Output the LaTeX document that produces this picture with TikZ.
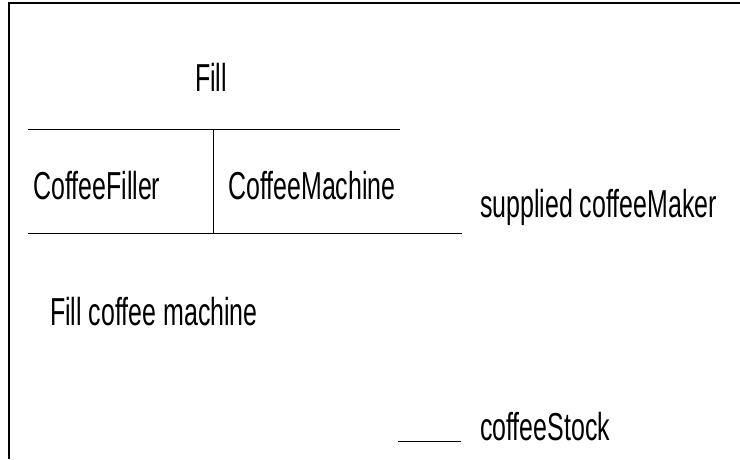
\documentclass[tikz,border=0pt]{standalone}
\usepackage{fontspec}
\setmainfont{Liberation Sans}
\usepackage{tikz}

\tikzset{
	lbl/.style={font=\fontsize{39}{40}\selectfont, xscale=0.64, inner sep=0pt, anchor=base west},
	rule/.style={line width=0.8pt}
}

\begin{document}
\begin{tikzpicture}[x=1pt,y=1pt]
	\useasboundingbox (0,0) rectangle (740,459);
	
	% frame
	\coordinate (fb) at (9,0);
	\coordinate (fc) at (9,456);
	\coordinate (fr) at (740,456);
	\draw[line width=2pt] (fb) -- (fc) -- (fr);
	
	% labels
	\node[lbl] (fill) at (195,367) {Fill};
	\node[lbl] (filler) at (33,259) {CoffeeFiller};
	\node[lbl] (machine) at (228,259) {CoffeeMachine};
	\node[lbl] (supplied) at (480,242) {supplied coffeeMaker};
	\node[lbl] (action) at (50,134) {Fill coffee machine};
	\node[lbl] (stock) at (480,19) {coffeeStock};
	
	% table
	\coordinate (tl) at (28,330);
	\coordinate (tr) at (400,330);
	\coordinate (bl) at (28,226);
	\coordinate (br) at (462,226);
	\coordinate (dt) at (213,330);
	\coordinate (db) at (213,226);
	\coordinate (sl) at (398,18);
	\coordinate (sr) at (461,18);
	
	\path [rule]
	(tl) edge (tr)
	(bl) edge (br)
	(dt) edge (db)
	(sl) edge (sr);
\end{tikzpicture}
\end{document}
